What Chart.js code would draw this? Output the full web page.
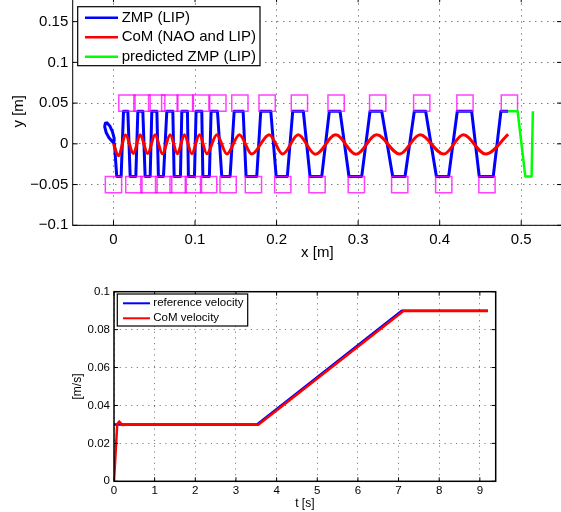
<!DOCTYPE html>
<html>
<head>
<meta charset="utf-8">
<script src="https://cdn.jsdelivr.net/npm/chart.js@4/dist/chart.umd.min.js"></script>
<style>
    html, body { margin: 0; padding: 0; background: #fff; }
    #page { position: relative; width: 561px; height: 512px; overflow: hidden; }
    #topWrap { position: absolute; left: 0; top: -30px; }
    #botWrap { position: absolute; left: 0; top: 270px; }
</style>
</head>
<body>
<div id="page">
    <div id="topWrap"><canvas id="stepChart" width="600" height="292"></canvas></div>
    <div id="botWrap"><canvas id="velChart" width="561" height="242"></canvas></div>
</div>
<script>
// ---- top plot: footsteps, ZMP and CoM in the x-y plane ----
const stepX = [0.000, 0.0165, 0.025, 0.035, 0.0435, 0.053, 0.0615, 0.069, 0.0793, 0.088,
               0.098, 0.107, 0.1167, 0.128, 0.1406, 0.155, 0.1716, 0.1884, 0.2076, 0.228,
               0.2496, 0.273, 0.2978, 0.324, 0.351, 0.378, 0.405, 0.431, 0.458, 0.4855];
const stepY = [-0.05, 0.05, -0.05, 0.05, -0.05, 0.05, -0.05, 0.05, -0.05, 0.05,
               -0.05, 0.05, -0.05, 0.05, -0.05, 0.05, -0.05, 0.05, -0.05, 0.05,
               -0.05, 0.05, -0.05, 0.05, -0.05, 0.05, -0.05, 0.05, -0.05, 0.05];

const zmpX = [0.0012, 0.0008, -0.0012, -0.0045, -0.0080, -0.0100, -0.0108, -0.0090, -0.0055, -0.0015, 0.0012,
              0.0040, 0.0094, 0.0123, 0.0176, 0.0205, 0.0274, 0.0299, 0.0360, 0.0388, 0.0450,
              0.0470, 0.0532, 0.0551, 0.0613, 0.0654, 0.0728, 0.0744, 0.0821, 0.0838, 0.0907,
              0.0919, 0.0993, 0.1013, 0.1083, 0.1096, 0.1176, 0.1197, 0.1275, 0.1328, 0.1430,
              0.1480, 0.1590, 0.1626, 0.1757, 0.1806, 0.1929, 0.1995, 0.2132, 0.2198, 0.2328,
              0.2410, 0.2554, 0.2647, 0.2778, 0.2888, 0.3044, 0.3146, 0.3289, 0.3424, 0.3575,
              0.3689, 0.3828, 0.3960, 0.4110, 0.4216, 0.4392, 0.4485, 0.4657, 0.4751, 0.4840];
const zmpY = [0.0025, 0.0070, 0.0147, 0.0220, 0.0258, 0.0252, 0.0210, 0.0140, 0.0075, 0.0030, 0.0000,
              -0.040, -0.040, 0.040, 0.040, -0.040, -0.040, 0.040, 0.040, -0.040, -0.040,
              0.040, 0.040, -0.040, -0.040, 0.040, 0.040, -0.040, -0.040, 0.040, 0.040,
              -0.040, -0.040, 0.040, 0.040, -0.040, -0.040, 0.040, 0.040, -0.040, -0.040,
              0.040, 0.040, -0.040, -0.040, 0.040, 0.040, -0.040, -0.040, 0.040, 0.040,
              -0.040, -0.040, 0.040, 0.040, -0.040, -0.040, 0.040, 0.040, -0.040, -0.040,
              0.040, 0.040, -0.040, -0.040, 0.040, 0.040, -0.040, -0.040, 0.040, 0.040];

const comX = [0.000, 0.006, 0.0150, 0.0245, 0.0327, 0.0420, 0.0510, 0.0600, 0.0695, 0.0784,
              0.0870, 0.0960, 0.1054, 0.1145, 0.1267, 0.1390, 0.1544, 0.1696, 0.1910, 0.2075,
              0.2265, 0.2475, 0.2725, 0.2974, 0.3228, 0.3510, 0.3759, 0.4050, 0.4290, 0.4565, 0.4840];
const comY = [0.000, -0.0145, 0.0108, -0.0120, 0.0110, -0.0120, 0.0110, -0.0122, 0.0112, -0.0122,
              0.0112, -0.0122, 0.0112, -0.0122, 0.0113, -0.0124, 0.0113, -0.0125, 0.0113, -0.0126,
              0.0112, -0.0127, 0.0110, -0.0127, 0.0110, -0.0126, 0.0110, -0.0126, 0.0110, -0.0126, 0.0115];

const predX = [0.4840, 0.4956, 0.5050, 0.5127, 0.5143];
const predY = [0.040, 0.040, -0.040, -0.040, 0.040];

const topXTicks = [0, 0.1, 0.2, 0.3, 0.4, 0.5];
const topXLabels = ['0', '0.1', '0.2', '0.3', '0.4', '0.5'];
const topYTicks = [-0.1, -0.05, 0, 0.05, 0.1, 0.15];
const topYLabels = ['\u22120.1', '\u22120.05', '0', '0.05', '0.1', '0.15'];

// ---- bottom plot: velocities over time ----
const refT = [0, 3.52, 7.08, 9.2];
const refV = [0.030, 0.030, 0.090, 0.090];
const comT = [0, 0.08, 0.13, 0.21, 0.32, 3.55, 7.12, 9.2];
const comV = [0, 0.0302, 0.0315, 0.0297, 0.02985, 0.02985, 0.0898, 0.0898];

const botXTicks = [0, 1, 2, 3, 4, 5, 6, 7, 8, 9];
const botXLabels = ['0', '1', '2', '3', '4', '5', '6', '7', '8', '9'];
const botYTicks = [0, 0.02, 0.04, 0.06, 0.08, 0.1];
const botYLabels = ['0', '0.02', '0.04', '0.06', '0.08', '0.1'];

const FONT = '"Liberation Sans", Arial, Helvetica, sans-serif';

function xy(xs, ys) {
    return xs.map((x, i) => ({ x: x, y: ys[i] }));
}

// MATLAB-like axes box with inward ticks
const matlabBox = {
    id: 'matlabBox',
    afterDatasetsDraw(chart, args, opts) {
        const ctx = chart.ctx;
        const a = chart.chartArea;
        const xs = chart.scales.x;
        const ys = chart.scales.y;
        ctx.save();
        ctx.setLineDash([]);
        ctx.strokeStyle = '#000';
        ctx.lineWidth = 1;
        ctx.beginPath();
        xs.ticks.forEach(t => {
            const p = xs.getPixelForValue(t.value);
            ctx.moveTo(p, a.bottom); ctx.lineTo(p, a.bottom - opts.tickLen);
            ctx.moveTo(p, a.top); ctx.lineTo(p, a.top + opts.tickLen);
        });
        ys.ticks.forEach(t => {
            const p = ys.getPixelForValue(t.value);
            ctx.moveTo(a.left, p); ctx.lineTo(a.left + opts.tickLen, p);
            ctx.moveTo(a.right, p); ctx.lineTo(a.right - opts.tickLen, p);
        });
        ctx.stroke();
        ctx.lineWidth = opts.lineWidth;
        ctx.strokeRect(a.left, a.top, a.right - a.left, a.bottom - a.top);
        ctx.restore();
    }
};

// legend drawn as a boxed panel inside the axes
const boxLegend = {
    id: 'boxLegend',
    afterDraw(chart, args, opts) {
        const ctx = chart.ctx;
        const items = chart.data.datasets.filter(d => d.inLegend !== false);
        ctx.save();
        ctx.setLineDash([]);
        ctx.fillStyle = '#fff';
        ctx.fillRect(opts.x, opts.y, opts.w, opts.h);
        ctx.strokeStyle = '#000';
        ctx.lineWidth = opts.borderWidth;
        ctx.strokeRect(opts.x, opts.y, opts.w, opts.h);
        ctx.font = opts.font;
        ctx.textBaseline = 'middle';
        ctx.textAlign = 'left';
        items.forEach((d, i) => {
            const yy = opts.y + opts.firstRow + i * opts.rowGap;
            ctx.strokeStyle = d.borderColor;
            ctx.lineWidth = opts.lineWidth;
            ctx.beginPath();
            ctx.moveTo(opts.x + opts.lineX, yy);
            ctx.lineTo(opts.x + opts.lineX + opts.lineLen, yy);
            ctx.stroke();
            ctx.fillStyle = '#000';
            ctx.fillText(d.label, opts.x + opts.textX, yy);
        });
        ctx.restore();
    }
};

function axisOptions(cfg) {
    return {
        type: 'linear',
        min: cfg.min,
        max: cfg.max,
        afterBuildTicks: s => { s.ticks = cfg.ticks.map(v => ({ value: v })); },
        afterFit: s => { if (cfg.width) s.width = cfg.width; if (cfg.height) s.height = cfg.height; },
        ticks: {
            callback: (v, i) => cfg.labels[i],
            color: '#000',
            font: { family: FONT, size: cfg.fontSize },
            padding: cfg.tickPad,
            autoSkip: false,
            maxRotation: 0
        },
        grid: { color: 'rgba(0,0,0,0.5)', lineWidth: 1, drawTicks: false },
        border: { display: false, dash: cfg.dash },
        title: {
            display: true,
            text: cfg.title,
            color: '#000',
            font: { family: FONT, size: cfg.titleSize },
            padding: cfg.titlePad
        }
    };
}

const stepChart = new Chart(document.getElementById('stepChart'), {
    type: 'scatter',
    data: {
        datasets: [
            {
                label: 'ZMP (LIP)', data: xy(zmpX, zmpY), showLine: true,
                borderColor: '#0000ff', borderWidth: 3, pointRadius: 0,
                borderJoinStyle: 'round', order: 3
            },
            {
                label: 'CoM (NAO and LIP)', data: xy(comX, comY), showLine: true,
                borderColor: '#ff0000', borderWidth: 3, pointRadius: 0,
                cubicInterpolationMode: 'monotone', order: 1
            },
            {
                label: 'predicted ZMP (LIP)', data: xy(predX, predY), showLine: true,
                borderColor: '#00ff00', borderWidth: 2.5, pointRadius: 0,
                borderJoinStyle: 'round', order: 0
            },
            {
                label: 'footsteps', data: xy(stepX, stepY), showLine: false, inLegend: false,
                pointStyle: 'rect', pointRadius: 11.5, pointBorderWidth: 1.5,
                pointBorderColor: 'rgba(255,0,255,0.75)', pointBackgroundColor: 'rgba(0,0,0,0)',
                order: 2
            }
        ]
    },
    options: {
        animation: false,
        responsive: false,
        events: [],
        layout: { padding: { top: 27.2, right: 38, bottom: 0, left: 0 } },
        plugins: {
            legend: { display: false },
            tooltip: { enabled: false },
            matlabBox: { lineWidth: 1, tickLen: 5 },
            boxLegend: {
                x: 77.7, y: 36.7, w: 182.3, h: 59, firstRow: 11, rowGap: 19.5,
                lineX: 7.3, lineLen: 33, textX: 44, lineWidth: 2.5, borderWidth: 1.2,
                font: '15px ' + FONT
            }
        },
        scales: {
            x: axisOptions({
                min: -0.05, max: 0.55, ticks: topXTicks, labels: topXLabels, height: 36.7,
                fontSize: 15, tickPad: 5.5, dash: [1.5, 4.5], title: 'x [m]', titleSize: 15,
                titlePad: { top: 0, bottom: 0 }
            }),
            y: axisOptions({
                min: -0.1, max: 0.18, ticks: topYTicks, labels: topYLabels, width: 72.7,
                fontSize: 15, tickPad: 4.4, dash: [1.5, 4.5], title: 'y [m]', titleSize: 15,
                titlePad: { top: 10, bottom: 0 }
            })
        }
    },
    plugins: [matlabBox, boxLegend]
});

const velChart = new Chart(document.getElementById('velChart'), {
    type: 'scatter',
    data: {
        datasets: [
            {
                label: 'reference velocity', data: xy(refT, refV), showLine: true,
                borderColor: '#0000ff', borderWidth: 2.5, pointRadius: 0, order: 1
            },
            {
                label: 'CoM velocity', data: xy(comT, comV), showLine: true,
                borderColor: '#ff0000', borderWidth: 2.5, pointRadius: 0, order: 0
            }
        ]
    },
    options: {
        animation: false,
        responsive: false,
        events: [],
        layout: { padding: { top: 21.7, right: 65.3, bottom: 0, left: 0 } },
        plugins: {
            legend: { display: false },
            tooltip: { enabled: false },
            matlabBox: { lineWidth: 1.5, tickLen: 4 },
            boxLegend: {
                x: 117.3, y: 24, w: 130.4, h: 32, firstRow: 9.3, rowGap: 15,
                lineX: 5.7, lineLen: 27, textX: 36, lineWidth: 2, borderWidth: 1.2,
                font: '11.5px ' + FONT
            }
        },
        scales: {
            x: axisOptions({
                min: 0, max: 9.39, ticks: botXTicks, labels: botXLabels, height: 30.7,
                fontSize: 11.5, tickPad: 2.5, dash: [1.2, 4.5], title: 't [s]', titleSize: 12,
                titlePad: { top: 0, bottom: 1 }
            }),
            y: axisOptions({
                min: 0, max: 0.1, ticks: botYTicks, labels: botYLabels, width: 114,
                fontSize: 11.5, tickPad: 4, dash: [1.2, 4.5], title: '[m/s]', titleSize: 12,
                titlePad: { top: 70.5, bottom: 0 }
            })
        }
    },
    plugins: [matlabBox, boxLegend]
});
</script>
</body>
</html>
